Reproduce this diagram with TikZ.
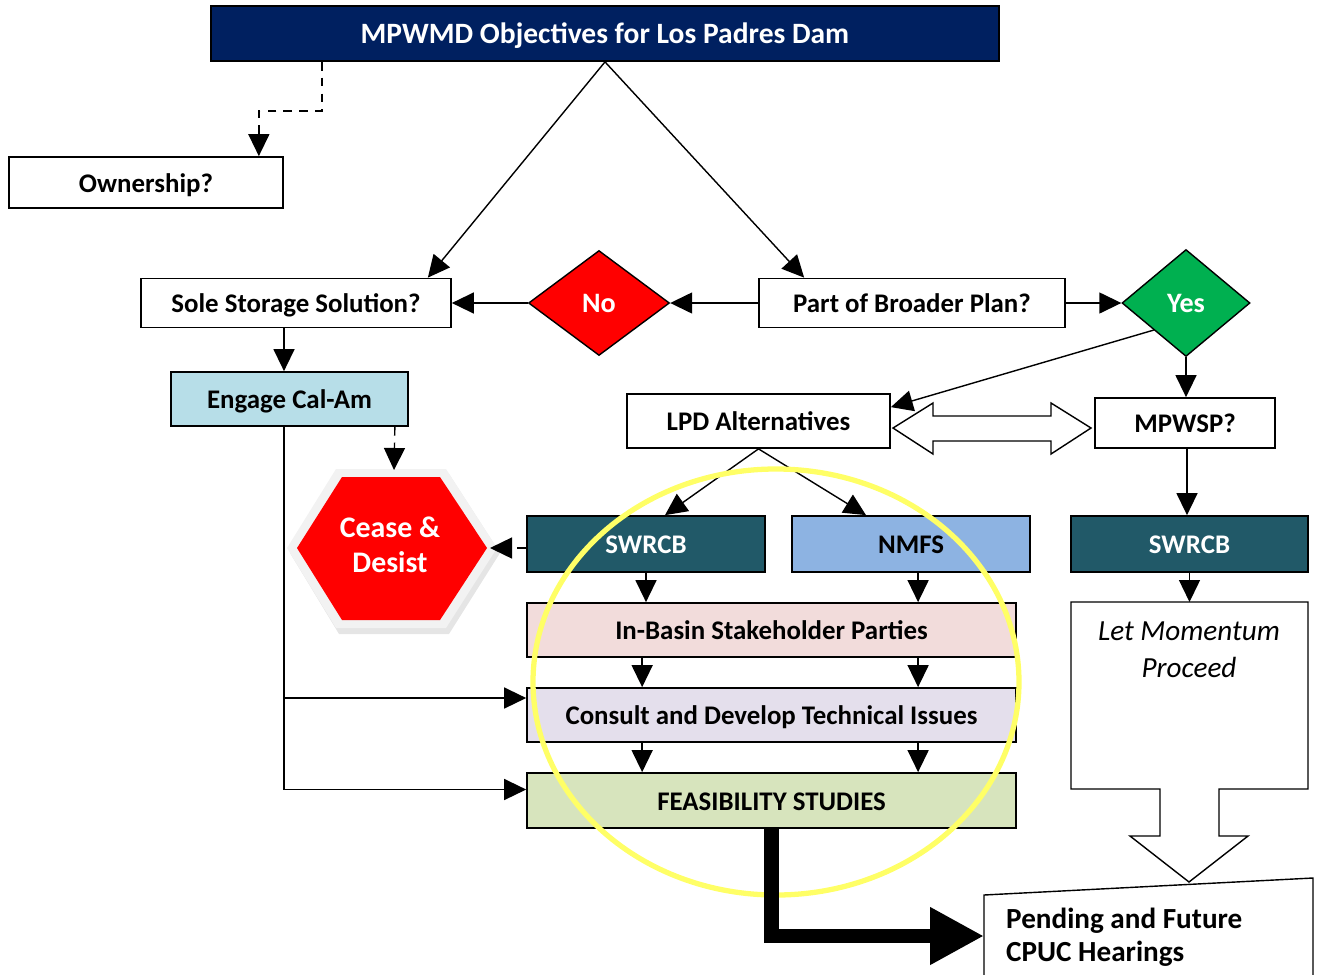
\documentclass[tikz,border=0pt]{standalone}
\usepackage{fontspec}
\setmainfont{Carlito}
\usetikzlibrary{shapes.geometric,arrows.meta,calc}

\definecolor{navy}{HTML}{002060}
\definecolor{nored}{HTML}{FF0000}
\definecolor{yesgreen}{HTML}{00B050}
\definecolor{teal}{HTML}{215968}
\definecolor{nmfsblue}{HTML}{8DB3E2}
\definecolor{calam}{HTML}{B7DEE8}
\definecolor{basinpink}{HTML}{F2DCDB}
\definecolor{consultlilac}{HTML}{E4DFEC}
\definecolor{feasgreen}{HTML}{D7E4BD}
\definecolor{ringyellow}{HTML}{FFFF66}

\begin{document}
\begin{tikzpicture}[
  x=0.02cm, y=-0.02cm,
  box/.style={
    rectangle, draw=black, line width=1pt,
    inner sep=2pt, align=center,
    text height=2.3ex, text depth=0pt,
    font=\bfseries\fontsize{15.3}{18}\selectfont
  },
  decision/.style={
    diamond, draw=black, line width=0.8pt, inner sep=0pt,
    text=white, font=\bfseries\fontsize{16}{19}\selectfont
  },
  arr/.style={-{Triangle[length=0.44cm,width=0.42cm]}, line width=0.8pt},
  dasharr/.style={arr, dash pattern=on 5pt off 4pt},
  ring/.style={draw=ringyellow, line width=3pt},
]
\useasboundingbox (0,0) rectangle (1321,974);

%% Top of the tree
\node[box, fill=navy, text=white, minimum width=15.76cm, minimum height=1.1cm, font=\bfseries\fontsize{16.8}{20}\selectfont] (title) at (605,33.5) {MPWMD Objectives for Los Padres Dam};
\node[box, minimum width=5.48cm, minimum height=1.02cm] (own) at (146,182.5) {Ownership?};
\node[box, minimum width=6.2cm, minimum height=0.98cm] (sole) at (296,303) {Sole Storage Solution?};
\node[box, minimum width=6.12cm, minimum height=0.98cm] (part) at (912,303) {Part of Broader Plan?};
\node[decision, fill=nored, minimum width=2.82cm, minimum height=2.1cm] (no) at (599,303) {No};
\node[decision, fill=yesgreen, minimum width=2.56cm, minimum height=2.14cm] (yes) at (1186,303) {Yes};

%% Middle row
\node[box, fill=calam, minimum width=4.74cm, minimum height=1.08cm] (engage) at (289.5,399) {Engage Cal-Am};
\node[box, minimum width=5.26cm, minimum height=1.08cm] (lpd) at (758.5,421) {LPD Alternatives};
\node[box, minimum width=3.6cm, minimum height=1.0cm] (mpwsp) at (1185,423) {MPWSP?};

%% Agencies
\node[box, fill=teal, text=white, minimum width=4.76cm, minimum height=1.12cm] (swrcbA) at (646,544) {SWRCB};
\node[box, fill=nmfsblue, minimum width=4.76cm, minimum height=1.12cm] (nmfs) at (911,544) {NMFS};
\node[box, fill=teal, text=white, minimum width=4.74cm, minimum height=1.12cm] (swrcbB) at (1189.5,544) {SWRCB};

%% Process bars
\node[box, fill=basinpink, minimum width=9.78cm, minimum height=1.08cm] (basin) at (771.5,630) {In-Basin Stakeholder Parties};
\node[box, fill=consultlilac, minimum width=9.78cm, minimum height=1.08cm] (consult) at (771.5,715) {Consult and Develop Technical Issues};
\node[box, fill=feasgreen, minimum width=9.78cm, minimum height=1.1cm] (feas) at (771.5,800.5) {FEASIBILITY STUDIES};

%% Cease & Desist hexagon
\fill[black!10] (290,553) -- (339,474) -- (449,474) -- (500,553) -- (449,634) -- (339,634) -- cycle;
\fill[black!5] (287,548) -- (336,469) -- (446,469) -- (497,548) -- (446,628) -- (336,628) -- cycle;
\fill[nored] (297,548) -- (342,477) -- (440,477) -- (487,548) -- (440,620) -- (342,620) -- cycle;
\node[text=white, align=center, font=\bfseries\fontsize{17}{20}\selectfont] (cease) at (390,545) {Cease \&\\Desist};
\coordinate (ceaseN) at (394,470);
\coordinate (ceaseE) at (490,548);

%% Let Momentum Proceed
\draw[line width=0.8pt, fill=white] (1071,602) -- (1308,602) -- (1308,789) -- (1219,789) -- (1219,836) -- (1248,836)
  -- (1189,882) -- (1130,836) -- (1160,836) -- (1160,789) -- (1071,789) -- cycle;
\node[align=center, font=\itshape\fontsize{16.6}{21}\selectfont] (mom) at (1189,650) {Let Momentum\\Proceed};
\coordinate (momtop) at (1189.5,602);

%% Pending hearings
\draw[line width=0.8pt, fill=white] (984,976) -- (984,895) -- (1313,878) -- (1313,976);
\node[anchor=west, align=left, font=\bfseries\fontsize{16.6}{19}\selectfont] (pend) at (1000,937) {Pending and Future\\CPUC Hearings};
\coordinate (pendIn) at (984,936);

%% Double arrow
\draw[line width=0.8pt, fill=white] (893,428) -- (933,403) -- (933,416) -- (1051,416) -- (1051,403) -- (1091,428)
  -- (1051,454) -- (1051,441) -- (933,441) -- (933,454) -- cycle;

%% Connectors
\draw[dasharr] ([xshift=2.24cm]title.south west) -- ++(0,-0.98cm) -| ([xshift=-0.5cm]own.north east);
\draw[arr] (title.south) -- ([xshift=-0.48cm]sole.north east);
\draw[arr] (title.south) -- ([xshift=0.92cm]part.north west);
\draw[arr] (part.west) -- (no.east);
\draw[arr] (no.west) -- (sole.east);
\draw[arr] (part.east) -- (yes.west);
\draw[arr] (yes.south) -- (yes.south |- mpwsp.north);
\draw[arr] (yes.south west) -- ([yshift=-0.28cm]lpd.north east);
\draw[arr] ([xshift=-0.24cm]sole.south) -- ([xshift=-0.24cm]sole.south |- engage.north);
\draw[dasharr] ([xshift=-0.28cm]engage.south east) -- (ceaseN);
\draw[dasharr] (swrcbA.west |- ceaseE) -- (ceaseE);
\draw[arr] (lpd.south) -- ([xshift=0.38cm]swrcbA.north);
\draw[arr] (lpd.south) -- ([xshift=-0.9cm]nmfs.north);
\draw[arr] ([xshift=0.04cm]mpwsp.south) -- ([xshift=0.04cm]mpwsp.south |- swrcbB.north);
\draw[arr] (swrcbB.south) -- (momtop);
\draw[arr] (swrcbA.south) -- (swrcbA.south |- basin.north);
\draw[arr] ([xshift=7.84cm]basin.north west |- nmfs.south) -- ([xshift=7.84cm]basin.north west);
\foreach \a/\b in {basin/consult, consult/feas}
  \foreach \dx in {2.32cm, 7.84cm}
    \draw[arr] ([xshift=\dx]\a.south west) -- ([xshift=\dx]\b.north west);

%% Cal-Am trunk
\coordinate (trunk) at ([xshift=-0.24cm]sole.south |- engage.south);
\path ([yshift=0.34cm]consult.west) coordinate (consultIn);
\path ([yshift=0.22cm]feas.west) coordinate (feasIn);
\draw[arr] (trunk) |- (feasIn);
\draw[arr] (trunk |- consultIn) -- (consultIn);

%% Highlight ring
\draw[ring] (776,682) ellipse [x radius=243, y radius=213];

%% To the hearings
\draw[line width=8pt, line join=miter, -{Triangle[length=1.08cm,width=1.08cm]}] (feas.south) |- (pendIn);

\end{tikzpicture}
\end{document}
